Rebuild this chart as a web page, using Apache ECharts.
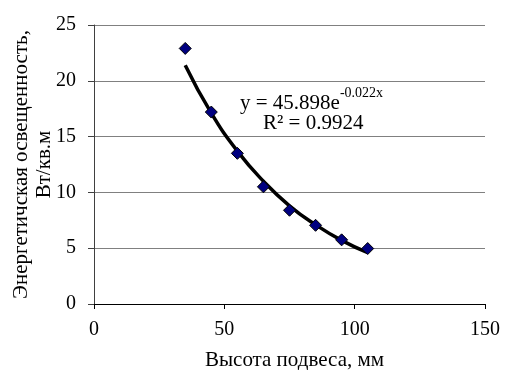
<!DOCTYPE html>
<html>
<head>
<meta charset="utf-8">
<style>html,body{margin:0;padding:0;background:#fff;}#chart{width:505px;height:370px;}</style>
<script src="https://cdn.jsdelivr.net/npm/echarts@6/dist/echarts.min.js"></script>
</head>
<body>
<div id="chart"></div>
<script>
// measured points
const heights = [35, 45, 55, 65, 75, 85, 95, 105];
const irradiance = [22.9, 17.2, 13.5, 10.5, 8.4, 7.05, 5.75, 4.97];
// trendline
const trendX = [35, 45, 55, 65, 75, 85, 95, 105];
const trendY = [21.4, 17.1, 13.7, 11.0, 8.8, 7.1, 5.7, 4.6];

const font = "Liberation Serif";

const chart = echarts.init(document.getElementById("chart"), null, { renderer: "canvas" });
chart.setOption({
  animation: false,
  backgroundColor: "#fff",
  textStyle: { fontFamily: font },
  grid: { left: 94, right: 20, top: 25, bottom: 66, containLabel: false, outerBoundsMode: "none" },
  xAxis: {
    type: "value",
    min: 0,
    max: 150,
    interval: 50,
    name: "Высота подвеса, мм",
    nameLocation: "middle",
    nameGap: 46,
    nameMoveOverlap: false,
    nameTextStyle: { color: "#000", fontSize: 21, fontFamily: font, padding: [0, 0, 0, 10] },
    axisLine: { show: true, lineStyle: { color: "#000", width: 1 } },
    axisTick: { show: true, inside: false, length: 5, lineStyle: { color: "#000" } },
    axisLabel: { color: "#000", fontSize: 20, fontFamily: font, margin: 16 },
    splitLine: { show: false },
  },
  yAxis: {
    type: "value",
    min: 0,
    max: 25,
    interval: 5,
    name: "Энергетичская освещенность,\nВт/кв.м",
    nameLocation: "middle",
    nameRotate: 90,
    nameGap: 38,
    nameMoveOverlap: false,
    nameTextStyle: { color: "#000", fontSize: 21, fontFamily: font, lineHeight: 23 },
    axisLine: { show: true, lineStyle: { color: "#404040", width: 1 } },
    axisTick: { show: true, inside: false, length: 6, lineStyle: { color: "#404040" } },
    axisLabel: { color: "#000", fontSize: 20, fontFamily: font, margin: 18 },
    splitLine: { show: true, lineStyle: { color: "#808080", width: 1 } },
  },
  series: [
    {
      type: "line",
      data: trendX.map((x, i) => [x, trendY[i]]),
      smooth: true,
      showSymbol: false,
      lineStyle: { color: "#000", width: 3.5 },
      z: 2,
    },
    {
      type: "scatter",
      data: heights.map((x, i) => [x, irradiance[i]]),
      symbol: "diamond",
      symbolSize: 12,
      itemStyle: { color: "#000080", borderColor: "#000", borderWidth: 1, opacity: 1 },
      z: 3,
    },
  ],
  graphic: [
    {
      type: "text",
      left: 240,
      top: 86,
      style: {
        text: "{a|y = 45.898e}{s|-0.022x}",
        rich: {
          a: { fontSize: 21, fontFamily: font, fill: "#000", verticalAlign: "bottom", height: 24 },
          s: { fontSize: 14, fontFamily: font, fill: "#000", verticalAlign: "top", height: 24, padding: [0, 0, 10, 0] },
        },
      },
    },
    {
      type: "text",
      left: 263,
      top: 113,
      style: { text: "R² = 0.9924", fontSize: 21, fontFamily: font, fill: "#000" },
    },
  ],
});
</script>
</body>
</html>
